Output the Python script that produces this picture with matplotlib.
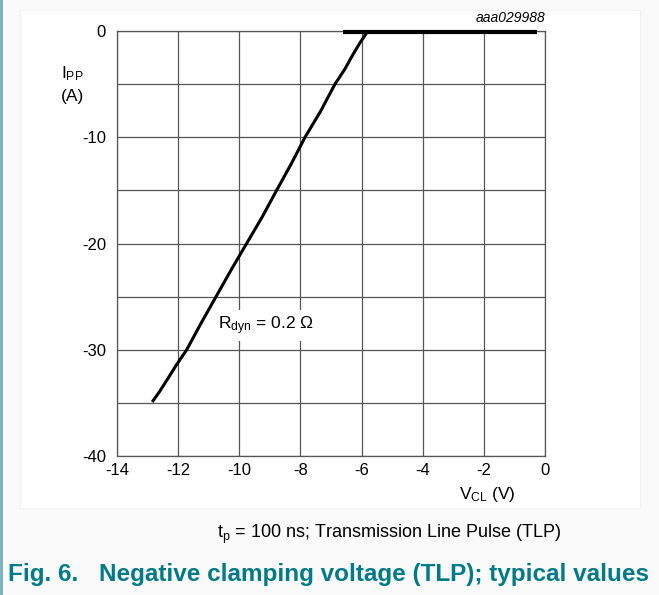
import matplotlib.pyplot as plt
from matplotlib.patches import Rectangle

plt.rcParams['font.family'] = ['Liberation Sans', 'DejaVu Sans']
plt.rcParams['axes.unicode_minus'] = False
plt.rcParams['mathtext.fontset'] = 'custom'
plt.rcParams['mathtext.rm'] = 'Liberation Sans'
plt.rcParams['mathtext.it'] = 'Liberation Sans:italic'
plt.rcParams['mathtext.default'] = 'regular'

# off-state (low current) part of the TLP curve
v_off = [-6.6, -4.0, -2.0, -0.25]
i_off = [-0.05, -0.05, -0.05, -0.05]

# clamping part
v_clamp = [-12.82, -12.6, -12.4, -12.05, -11.72, -11.25, -10.76, -10.25, -9.76,
           -9.25, -8.78, -8.3, -7.85, -7.35, -6.87, -6.55, -6.3, -6.05, -5.85, -5.95]
i_clamp = [-34.8, -33.9, -33.0, -31.4, -30.0, -27.5, -25.0, -22.4, -20.0,
           -17.5, -15.0, -12.5, -10.0, -7.6, -5.0, -3.6, -2.3, -1.1, -0.25, -0.15]

x_ticks = [-14, -12, -10, -8, -6, -4, -2, 0]
y_ticks = [0, -10, -20, -30, -40]
y_grid = [-5, -15, -25, -35]

fig = plt.figure(figsize=(6.59, 5.95), dpi=100)
fig.patch.set_facecolor('#fafafa')

# white panel behind the chart and the left teal border
fig.add_artist(Rectangle((20 / 659, 1 - 508 / 595), 620 / 659, 498 / 595,
                         transform=fig.transFigure, facecolor='white',
                         edgecolor='#f2f2f2', lw=0.8, zorder=0))
fig.add_artist(Rectangle((0, 0), 2.5 / 659, 1, transform=fig.transFigure,
                         facecolor='#7fb3bd', edgecolor='none', zorder=0))

ax = fig.add_axes([117 / 659, 1 - 456 / 595, 428 / 659, 425 / 595])
ax.set_xlim(-14, 0)
ax.set_ylim(-40, 0)
ax.set_xticks(x_ticks, labels=[str(t) for t in x_ticks])
ax.set_yticks(y_ticks, labels=[str(t) for t in y_ticks])
ax.set_yticks(y_grid, minor=True)
ax.tick_params(which='both', length=0, labelsize=12, pad=8)
ax.tick_params(axis='x', pad=5)
ax.grid(True, which='both', color='#555555', lw=0.9)
for s in ax.spines.values():
    s.set_color('#555555')
    s.set_linewidth(0.9)
ax.set_axisbelow(True)

ax.plot(v_off, i_off, color='black', lw=3, solid_capstyle='butt', clip_on=False, zorder=3)
ax.plot(v_clamp, i_clamp, color='black', lw=2.2, solid_joinstyle='round', clip_on=False, zorder=3)

ax.text(-10.7, -27.7, r'R$_{\mathrm{dyn}}$ = 0.2 Ω', fontsize=12.5, va='center', ha='left',
        bbox=dict(facecolor='white', edgecolor='none', pad=3), zorder=4)

fig.text(72 / 659, 1 - 74 / 595, r'I$_{\mathrm{PP}}$', fontsize=12.5, ha='center', va='center')
fig.text(72 / 659, 1 - 96 / 595, '(A)', fontsize=12.5, ha='center', va='center')
fig.text(487 / 659, 1 - 495 / 595, r'V$_{\mathrm{CL}}$ (V)', fontsize=12.5, ha='center', va='center')
fig.text(545 / 659, 1 - 18 / 595, 'aaa029988', fontsize=10, style='italic', ha='right', va='center')

fig.text(389 / 659, 1 - 534 / 595, r't$_{\mathrm{p}}$ = 100 ns; Transmission Line Pulse (TLP)',
         fontsize=13, ha='center', va='center')
fig.text(8 / 659, 1 - 575 / 595, 'Fig. 6.', fontsize=17.5, fontweight='bold',
         color='#007a87', ha='left', va='center')
fig.text(99 / 659, 1 - 575 / 595, 'Negative clamping voltage (TLP); typical values',
         fontsize=17.5, fontweight='bold', color='#007a87', ha='left', va='center')

fig.savefig('out.png', dpi=100)
